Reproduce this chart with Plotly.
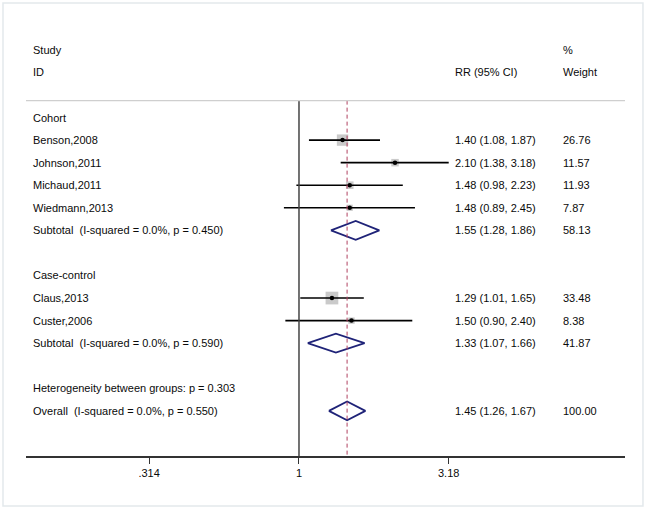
import plotly.graph_objects as go
import math

# ---------------- data ----------------
study_labels = ["Benson,2008", "Johnson,2011", "Michaud,2011", "Wiedmann,2013",
                "Claus,2013", "Custer,2006"]
study_rows = [1, 2, 3, 4, 8, 9]
study_rr = [1.40, 2.10, 1.48, 1.48, 1.29, 1.50]
study_lo = [1.08, 1.38, 0.98, 0.89, 1.01, 0.90]
study_hi = [1.87, 3.18, 2.23, 2.45, 1.65, 2.40]
study_weight = [26.76, 11.57, 11.93, 7.87, 33.48, 8.38]

pooled_labels = ["Subtotal  (I-squared = 0.0%, p = 0.450)",
                 "Subtotal  (I-squared = 0.0%, p = 0.590)",
                 "Overall  (I-squared = 0.0%, p = 0.550)"]
pooled_rows = [5, 10, 13]
pooled_rr = [1.55, 1.33, 1.45]
pooled_lo = [1.28, 1.07, 1.26]
pooled_hi = [1.86, 1.66, 1.67]
pooled_weight = [58.13, 41.87, 100.00]

group_labels = ["Cohort", "Case-control", "Heterogeneity between groups: p = 0.303"]
group_rows = [0, 7, 12]

tick_vals = [0.314, 1, 3.18]
tick_text = [".314", "1", "3.18"]

overall_rr = pooled_rr[-1]

FONT = "Liberation Sans, Arial, sans-serif"
TXT = "#0a0a0a"
DIAMOND = "#1f2378"
BOX = "#b4b4b4"

fig = go.Figure()

# weight boxes
fig.add_trace(go.Scatter(
    x=study_rr, y=study_rows, mode="markers",
    marker=dict(symbol="square", color=BOX,
                size=[2.2 * math.sqrt(w) for w in study_weight],
                line=dict(width=0)),
    hoverinfo="skip", showlegend=False))

# confidence intervals
for r, lo, hi in zip(study_rows, study_lo, study_hi):
    fig.add_trace(go.Scatter(x=[lo, hi], y=[r, r], mode="lines",
                             line=dict(color="#000000", width=1.6),
                             hoverinfo="skip", showlegend=False))

# point estimates
fig.add_trace(go.Scatter(
    x=study_rr, y=study_rows, mode="markers",
    marker=dict(symbol="circle", color="#000000", size=4.5),
    hoverinfo="skip", showlegend=False))

# diamonds
h = 0.42
for r, est, lo, hi in zip(pooled_rows, pooled_rr, pooled_lo, pooled_hi):
    fig.add_trace(go.Scatter(x=[lo, est, hi, est, lo], y=[r, r - h, r, r + h, r],
                             mode="lines", line=dict(color=DIAMOND, width=1.8),
                             hoverinfo="skip", showlegend=False))

# null line and overall line
fig.add_trace(go.Scatter(x=[1, 1], y=[-0.75, 15], mode="lines",
                         line=dict(color="#444444", width=1.5),
                         hoverinfo="skip", showlegend=False))
fig.add_trace(go.Scatter(x=[overall_rr, overall_rr], y=[-0.75, 15], mode="lines",
                         line=dict(color="#b04060", width=1, dash="4px,3px"),
                         hoverinfo="skip", showlegend=False))

annotations = []


def add_text(text, xp, row):
    annotations.append(dict(text=text, x=xp, y=row, xref="paper", yref="y",
                            xanchor="left", yanchor="middle", showarrow=False,
                            borderpad=0,
                            font=dict(family=FONT, size=11, color=TXT)))


X_LABEL = 0.0105
X_RR = 0.7145
X_W = 0.895

# headers
add_text("Study", X_LABEL, -3)
add_text("ID", X_LABEL, -2)
add_text("RR (95% CI)", X_RR, -2)
add_text("%", X_W, -3)
add_text("Weight", X_W, -2)

for lab, r in zip(group_labels, group_rows):
    add_text(lab, X_LABEL, r)
for lab, r, est, lo, hi, w in zip(study_labels, study_rows, study_rr, study_lo,
                                  study_hi, study_weight):
    add_text(lab, X_LABEL, r)
    add_text(f"{est:.2f} ({lo:.2f}, {hi:.2f})", X_RR, r)
    add_text(f"{w:.2f}", X_W, r)
for lab, r, est, lo, hi, w in zip(pooled_labels, pooled_rows, pooled_rr, pooled_lo,
                                  pooled_hi, pooled_weight):
    add_text(lab, X_LABEL, r)
    add_text(f"{est:.2f} ({lo:.2f}, {hi:.2f})", X_RR, r)
    add_text(f"{w:.2f}", X_W, r)

shapes = [
    # header separator
    dict(type="line", xref="paper", yref="y", x0=0, x1=1, y0=-0.75, y1=-0.75,
         line=dict(color="#cfcfcf", width=1.2)),
    # outer frame
    dict(type="rect", xref="paper", yref="paper", x0=-0.0384, x1=1.030,
         y0=-0.1136, y1=1.0295, line=dict(color="#e3e9ec", width=1.5)),
]

fig.update_layout(
    width=647, height=510,
    margin=dict(l=26, r=22, t=16, b=54),
    paper_bgcolor="white", plot_bgcolor="white",
    showlegend=False,
    font=dict(family=FONT, size=11, color=TXT),
    xaxis=dict(type="log", range=[-0.9161, 1.0940],
               tickvals=tick_vals, ticktext=tick_text,
               ticks="outside", ticklen=6, tickwidth=1.3, tickcolor="#333333",
               showline=True, linecolor="#333333", linewidth=1.5,
               showgrid=False, zeroline=False, fixedrange=True,
               tickfont=dict(family=FONT, size=11, color=TXT)),
    yaxis=dict(range=[15, -4.5], visible=False, showgrid=False, zeroline=False,
               fixedrange=True),
    annotations=annotations,
    shapes=shapes,
)

fig.write_html("out.html",
               config={"displayModeBar": False},
               post_script="document.body.style.margin='0';"
                           "document.body.style.overflow='hidden';")
